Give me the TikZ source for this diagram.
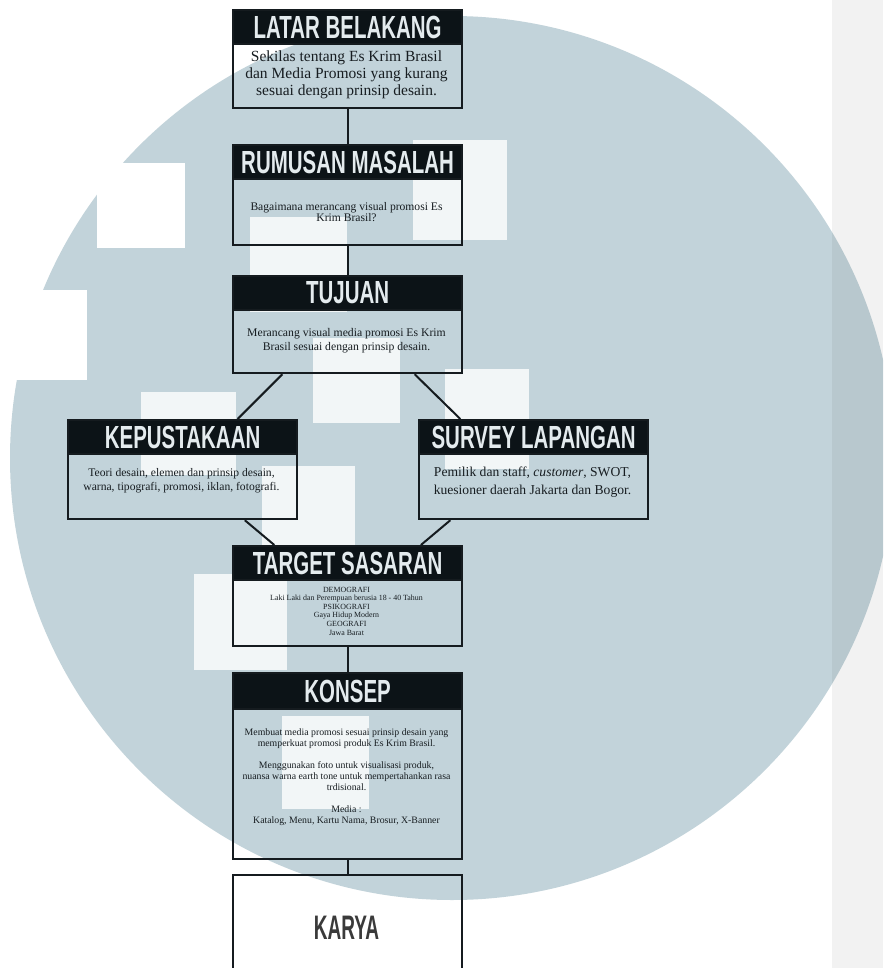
\documentclass[tikz,border=0pt]{standalone}
\usepackage{graphicx}
\usepackage{fontspec}
\setmainfont{Liberation Serif}
\newfontfamily\headfont{Liberation Sans}
\usetikzlibrary{calc}

\definecolor{circ}{HTML}{C2D3DA}
\definecolor{hdr}{HTML}{0C1317}
\definecolor{hdrtxt}{HTML}{E4EBEE}
\definecolor{bodytxt}{HTML}{171D21}
\definecolor{edgec}{HTML}{151B1F}
\definecolor{karyatxt}{HTML}{3A3A3A}

\newcommand{\hd}[1]{\scalebox{0.64}[1]{#1}}

\tikzset{
  box/.style={draw=edgec, line width=2.2pt, minimum width=229pt, inner sep=0pt, anchor=north west},
  hbar/.style={fill=hdr, draw=edgec, line width=2.2pt, minimum width=229pt, minimum height=34pt,
    inner sep=0pt, anchor=north west, text=hdrtxt, font=\headfont\bfseries\fontsize{32}{32}\selectfont},
  bodyt/.style={align=center, text=bodytxt, inner sep=0pt},
  conn/.style={draw=edgec, line width=2pt},
  mosaic/.style={fill=white, opacity=0.8},
}

\begin{document}
\begin{tikzpicture}[x=1pt, y=-1pt]
\useasboundingbox (0,0) rectangle (883,968);
\clip (0,0) rectangle (883,968);
% background
\fill[white] (0,0) rectangle (883,968);
\fill[circ] (452,458) circle (442pt);
\fill[white] (0,290) rectangle (87,380);
\fill[white] (97,163) rectangle (185,248);
% mosaic squares
\fill[mosaic] (413,140) rectangle (507,240);
\fill[mosaic] (250,217) rectangle (347,312);
\fill[mosaic] (313,338) rectangle (400,423);
\fill[mosaic] (445,369) rectangle (529,469);
\fill[mosaic] (141,392) rectangle (236,475);
\fill[mosaic] (262,466) rectangle (355,546);
\fill[mosaic] (194,574) rectangle (287,670);
\fill[mosaic] (282,716) rectangle (369,809);
% side band
\fill[black, opacity=0.05] (832,0) rectangle (883,968);

% LATAR BELAKANG
\node[box, minimum height=98pt] (latar) at (232,9) {};
\node[hbar] (latarH) at (232,9) {\hd{LATAR BELAKANG}};
\node[bodyt, font=\fontsize{15.5}{17}\selectfont] (latarB) at (346.5,74.5)
  {Sekilas tentang Es Krim Brasil\\dan Media Promosi yang kurang\\sesuai dengan prinsip desain.};

% RUMUSAN MASALAH
\node[box, minimum height=100pt] (rumus) at (232,144) {};
\node[hbar] (rumusH) at (232,144) {\hd{RUMUSAN MASALAH}};
\node[bodyt, font=\fontsize{11.6}{11}\selectfont] (rumusB) at (346.5,212)
  {Bagaimana merancang visual promosi Es\\Krim Brasil?};

% TUJUAN
\node[box, minimum height=97pt] (tujuan) at (232,275) {};
\node[hbar] (tujuanH) at (232,275) {\hd{TUJUAN}};
\node[bodyt, font=\fontsize{11.7}{14}\selectfont] (tujuanB) at (346.5,341)
  {Merancang visual media promosi Es Krim\\Brasil sesuai dengan prinsip desain.};

% KEPUSTAKAAN
\node[box, minimum height=99pt] (kepus) at (67,419) {};
\node[hbar] (kepusH) at (67,419) {\hd{KEPUSTAKAAN}};
\node[bodyt, font=\fontsize{11.6}{14}\selectfont] (kepusB) at (181.5,481)
  {Teori desain, elemen dan prinsip desain,\\warna, tipografi, promosi, iklan, fotografi.};

% SURVEY LAPANGAN
\node[box, minimum height=99pt] (survey) at (418,419) {};
\node[hbar] (surveyH) at (418,419) {\hd{SURVEY LAPANGAN}};
\node[bodyt, font=\fontsize{13.6}{18}\selectfont] (surveyB) at (532.5,482)
  {Pemilik dan staff, \textit{customer}, SWOT,\\kuesioner daerah Jakarta dan Bogor.};

% TARGET SASARAN
\node[box, minimum height=100pt] (target) at (232,545) {};
\node[hbar] (targetH) at (232,545) {\hd{TARGET SASARAN}};
\node[bodyt, font=\fontsize{7.9}{8.6}\selectfont] (targetB) at (346.5,611)
  {DEMOGRAFI\\Laki Laki dan Perempuan berusia 18 - 40 Tahun\\PSIKOGRAFI\\Gaya Hidup Modern\\GEOGRAFI\\Jawa Barat};

% KONSEP
\node[box, minimum height=186pt] (konsep) at (232,672) {};
\node[hbar, minimum height=36pt] (konsepH) at (232,672) {\hd{KONSEP}};
\node[bodyt, font=\fontsize{9.8}{11}\selectfont] (konsepB) at (346.5,777)
  {Membuat media promosi sesuai prinsip desain yang\\memperkuat promosi produk Es Krim Brasil.\\[11pt]
   Menggunakan foto untuk visualisasi produk,\\nuansa warna earth tone untuk mempertahankan rasa\\trdisional.\\[11pt]
   Media :\\Katalog, Menu, Kartu Nama, Brosur, X-Banner};

% KARYA
\node[box, minimum height=110pt] (karya) at (232,874) {};
\node[text=karyatxt, font=\headfont\bfseries\fontsize{34}{34}\selectfont, inner sep=0pt] (karyaT) at (346.5,927.5) {\scalebox{0.56}[1]{KARYA}};

% connectors
\draw[conn] (latar.south) -- (rumus.north);
\draw[conn] (rumus.south) -- (tujuan.north);
\draw[conn] ($(tujuan.south west)!0.218!(tujuan.south east)$) -- ($(kepus.north west)!0.738!(kepus.north east)$);
\draw[conn] ($(tujuan.south west)!0.79!(tujuan.south east)$) -- ($(survey.north west)!0.183!(survey.north east)$);
\draw[conn] ($(kepus.south west)!0.769!(kepus.south east)$) -- ($(target.north west)!0.183!(target.north east)$);
\draw[conn] ($(survey.south west)!0.14!(survey.south east)$) -- ($(target.north west)!0.817!(target.north east)$);
\draw[conn] (target.south) -- (konsep.north);
\draw[conn] (konsep.south) -- (karya.north);
\end{tikzpicture}
\end{document}
